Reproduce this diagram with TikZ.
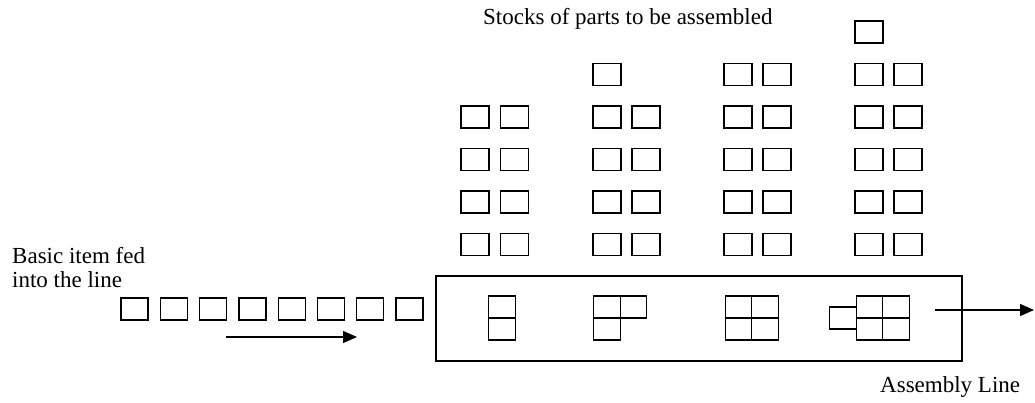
\documentclass[tikz,border=0pt]{standalone}
\usepackage{fontspec}
\setmainfont{Liberation Serif}
\usetikzlibrary{arrows.meta}
\begin{document}
\begin{tikzpicture}[x=1pt,y=-1pt,
  part/.style={draw, line width=1.3pt, rectangle, inner sep=0pt, outer sep=0pt,
    minimum width=28pt, minimum height=22pt},
  cell/.style={draw, line width=1.3pt, rectangle, inner sep=0pt, outer sep=0pt,
    minimum width=26.5pt, minimum height=22pt},
  frame/.style={draw, line width=1.3pt, rectangle, inner sep=0pt, outer sep=0pt},
  txt/.style={inner sep=0pt, anchor=base west, font=\fontsize{23}{24}\selectfont},
  flow/.style={line width=1.3pt, -{Triangle[length=14pt,width=12pt]}}
]
\useasboundingbox (0,0) rectangle (1035,403);

% stocks of parts: pairs stacked in four columns
\foreach \c/\xa/\xb/\n in {1/475/514.5/4, 2/607/646/4, 3/738/777/5, 4/869/908/5} {
  \foreach \r in {1,...,\n} {
    \pgfmathsetmacro\yy{244.5-42.5*(\r-1)}
    \node[part] (s\c-\r-a) at (\xa,\yy) {};
    \node[part] (s\c-\r-b) at (\xb,\yy) {};
  }
}
\node[part] (s2-5-a) at (607,74.5) {};
\node[part] (s4-6-a) at (869,32) {};

\node[txt] (stocks) at (483,25) {Stocks of parts to be assembled};

% basic items waiting to enter the line
\foreach \i in {0,...,7}
  \node[part, minimum width=27pt] (in\i) at ({134.5+39.3*\i},309) {};

\node[txt] (basic1) at (12,263) {Basic item fed};
\node[txt] (basic2) at (12,287) {into the line};

\coordinate (feedS) at (226,337);
\coordinate (feedE) at (357,337);
\draw[flow] (feedS) -- (feedE);

% the assembly line
\node[frame, minimum width=526pt, minimum height=85pt] (line) at (699,318.5) {};

% station 1
\node[cell] (a1t) at (502,307) {};
\node[cell, anchor=north] (a1b) at (a1t.south) {};
% station 2
\node[cell] (a2tl) at (607,307) {};
\node[cell, anchor=west] (a2tr) at (a2tl.east) {};
\node[cell, anchor=north] (a2bl) at (a2tl.south) {};
% station 3
\node[cell] (a3tl) at (738.5,307) {};
\node[cell, anchor=west] (a3tr) at (a3tl.east) {};
\node[cell, anchor=north] (a3bl) at (a3tl.south) {};
\node[cell, anchor=west] (a3br) at (a3bl.east) {};
% station 4
\node[cell] (a4tl) at (869.5,307) {};
\node[cell, anchor=west] (a4tr) at (a4tl.east) {};
\node[cell, anchor=north] (a4bl) at (a4tl.south) {};
\node[cell, anchor=west] (a4br) at (a4bl.east) {};
\node[cell, anchor=east] (a4x) at (a4tl.south west) {};

\coordinate (outS) at (935,310);
\coordinate (outE) at (1034,310);
\draw[flow] (outS) -- (outE);

\node[txt] (assembly) at (880,392) {Assembly Line};
\end{tikzpicture}
\end{document}
